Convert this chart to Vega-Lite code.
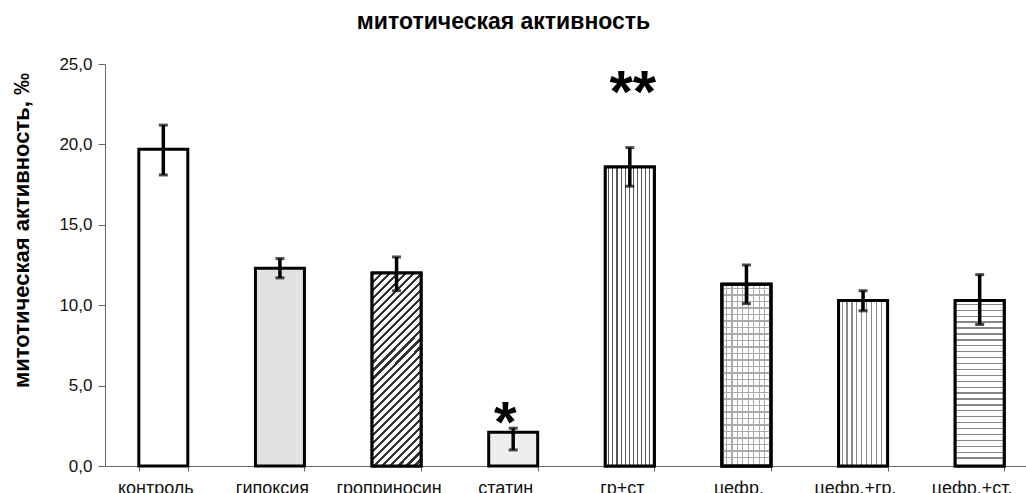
{
  "$schema": "https://vega.github.io/schema/vega-lite/v6.json",
  "width": 921,
  "height": 402,
  "autosize": {"type": "none"},
  "padding": {"left": 105, "top": 64, "right": 0, "bottom": 27},
  "background": "white",
  "config": {"font": "Liberation Sans", "view": {"stroke": null}},
  "title": {"text": "митотическая активность", "fontSize": 23, "fontWeight": "bold", "color": "black", "anchor": "middle", "frame": "group", "dx": -62, "offset": 21},
  "data": {"values": [
    {"group": "контроль", "value": 19.7, "lo": 18.1, "hi": 21.2, "sig": ""},
    {"group": "гипоксия", "value": 12.3, "lo": 11.7, "hi": 12.9, "sig": ""},
    {"group": "гроприносин", "value": 12.0, "lo": 10.9, "hi": 13.0, "sig": ""},
    {"group": "статин", "value": 2.1, "lo": 1.0, "hi": 2.35, "sig": "*"},
    {"group": "гр+ст", "value": 18.6, "lo": 17.4, "hi": 19.8, "sig": "**"},
    {"group": "цефр.", "value": 11.3, "lo": 10.1, "hi": 12.5, "sig": ""},
    {"group": "цефр.+гр.", "value": 10.3, "lo": 9.65, "hi": 10.9, "sig": ""},
    {"group": "цефр.+ст.", "value": 10.3, "lo": 8.8, "hi": 11.9, "sig": ""}
  ]},
  "encoding": {
    "x": {"field": "group", "type": "nominal", "sort": null,
      "scale": {"range": [0, 933], "paddingInner": 0.58, "paddingOuter": 0.29},
      "axis": {"title": null, "labelAngle": 0, "tickBand": "extent", "tickSize": 5, "domainColor": "#666", "tickColor": "#666", "labelFontSize": 18, "labelColor": "#111", "labelPadding": 8, "labelOffset": -8}},
    "y": {"field": "value", "type": "quantitative", "title": "митотическая активность, ‰", "scale": {"domain": [0, 25], "nice": false}}
  },
  "layer": [
    {
      "mark": {"type": "bar", "stroke": "black", "strokeWidth": 3},
      "encoding": {
        "y": {"field": "value", "type": "quantitative", "title": "митотическая активность, ‰",
          "scale": {"domain": [0, 25], "nice": false},
          "axis": {"values": [0, 5, 10, 15, 20, 25], "labelExpr": "replace(format(datum.value, '.1f'), '.', ',')", "grid": false, "tickSize": 7, "domainColor": "#666", "tickColor": "#666", "labelFontSize": 17, "labelColor": "#111", "labelPadding": 6, "titleFontSize": 22, "titleFontWeight": "bold", "titleColor": "black", "titleX": -84, "titleY": 166, "titleAngle": 270, "titleAlign": "center", "titleBaseline": "middle"}},
        "color": {"field": "group", "type": "nominal", "legend": null,
          "scale": {"domain": ["контроль", "гипоксия", "гроприносин", "статин", "гр+ст", "цефр.", "цефр.+гр.", "цефр.+ст."],
            "range": ["#ffffff", "#e2e2e2", "#888888", "#eeeeee", "#bbbbbb", "#d8d8d8", "#c6c6c6", "#cdcdcd"]}}
      }
    },
    {
      "transform": [{"filter": "datum.group == 'гроприносин'"}],
      "mark": {"type": "bar", "stroke": "black", "strokeWidth": 3,
        "color": {"gradient": "linear", "x1": 0, "y1": 0, "x2": 0.3, "y2": 1.178, "stops": [
          {"offset": 0, "color": "#333"}, {"offset": 0.013, "color": "#333"}, {"offset": 0.013, "color": "#fff"}, {"offset": 0.0333, "color": "#fff"},
          {"offset": 0.0333, "color": "#333"}, {"offset": 0.0463, "color": "#333"}, {"offset": 0.0463, "color": "#fff"}, {"offset": 0.0667, "color": "#fff"},
          {"offset": 0.0667, "color": "#333"}, {"offset": 0.0797, "color": "#333"}, {"offset": 0.0797, "color": "#fff"}, {"offset": 0.1, "color": "#fff"},
          {"offset": 0.1, "color": "#333"}, {"offset": 0.113, "color": "#333"}, {"offset": 0.113, "color": "#fff"}, {"offset": 0.1333, "color": "#fff"},
          {"offset": 0.1333, "color": "#333"}, {"offset": 0.1463, "color": "#333"}, {"offset": 0.1463, "color": "#fff"}, {"offset": 0.1667, "color": "#fff"},
          {"offset": 0.1667, "color": "#333"}, {"offset": 0.1797, "color": "#333"}, {"offset": 0.1797, "color": "#fff"}, {"offset": 0.2, "color": "#fff"},
          {"offset": 0.2, "color": "#333"}, {"offset": 0.213, "color": "#333"}, {"offset": 0.213, "color": "#fff"}, {"offset": 0.2333, "color": "#fff"},
          {"offset": 0.2333, "color": "#333"}, {"offset": 0.2463, "color": "#333"}, {"offset": 0.2463, "color": "#fff"}, {"offset": 0.2667, "color": "#fff"},
          {"offset": 0.2667, "color": "#333"}, {"offset": 0.2797, "color": "#333"}, {"offset": 0.2797, "color": "#fff"}, {"offset": 0.3, "color": "#fff"},
          {"offset": 0.3, "color": "#333"}, {"offset": 0.313, "color": "#333"}, {"offset": 0.313, "color": "#fff"}, {"offset": 0.3333, "color": "#fff"},
          {"offset": 0.3333, "color": "#333"}, {"offset": 0.3463, "color": "#333"}, {"offset": 0.3463, "color": "#fff"}, {"offset": 0.3667, "color": "#fff"},
          {"offset": 0.3667, "color": "#333"}, {"offset": 0.3797, "color": "#333"}, {"offset": 0.3797, "color": "#fff"}, {"offset": 0.4, "color": "#fff"},
          {"offset": 0.4, "color": "#333"}, {"offset": 0.413, "color": "#333"}, {"offset": 0.413, "color": "#fff"}, {"offset": 0.4333, "color": "#fff"},
          {"offset": 0.4333, "color": "#333"}, {"offset": 0.4463, "color": "#333"}, {"offset": 0.4463, "color": "#fff"}, {"offset": 0.4667, "color": "#fff"},
          {"offset": 0.4667, "color": "#333"}, {"offset": 0.4797, "color": "#333"}, {"offset": 0.4797, "color": "#fff"}, {"offset": 0.5, "color": "#fff"},
          {"offset": 0.5, "color": "#333"}, {"offset": 0.513, "color": "#333"}, {"offset": 0.513, "color": "#fff"}, {"offset": 0.5333, "color": "#fff"},
          {"offset": 0.5333, "color": "#333"}, {"offset": 0.5463, "color": "#333"}, {"offset": 0.5463, "color": "#fff"}, {"offset": 0.5667, "color": "#fff"},
          {"offset": 0.5667, "color": "#333"}, {"offset": 0.5797, "color": "#333"}, {"offset": 0.5797, "color": "#fff"}, {"offset": 0.6, "color": "#fff"},
          {"offset": 0.6, "color": "#333"}, {"offset": 0.613, "color": "#333"}, {"offset": 0.613, "color": "#fff"}, {"offset": 0.6333, "color": "#fff"},
          {"offset": 0.6333, "color": "#333"}, {"offset": 0.6463, "color": "#333"}, {"offset": 0.6463, "color": "#fff"}, {"offset": 0.6667, "color": "#fff"},
          {"offset": 0.6667, "color": "#333"}, {"offset": 0.6797, "color": "#333"}, {"offset": 0.6797, "color": "#fff"}, {"offset": 0.7, "color": "#fff"},
          {"offset": 0.7, "color": "#333"}, {"offset": 0.713, "color": "#333"}, {"offset": 0.713, "color": "#fff"}, {"offset": 0.7333, "color": "#fff"},
          {"offset": 0.7333, "color": "#333"}, {"offset": 0.7463, "color": "#333"}, {"offset": 0.7463, "color": "#fff"}, {"offset": 0.7667, "color": "#fff"},
          {"offset": 0.7667, "color": "#333"}, {"offset": 0.7797, "color": "#333"}, {"offset": 0.7797, "color": "#fff"}, {"offset": 0.8, "color": "#fff"},
          {"offset": 0.8, "color": "#333"}, {"offset": 0.813, "color": "#333"}, {"offset": 0.813, "color": "#fff"}, {"offset": 0.8333, "color": "#fff"},
          {"offset": 0.8333, "color": "#333"}, {"offset": 0.8463, "color": "#333"}, {"offset": 0.8463, "color": "#fff"}, {"offset": 0.8667, "color": "#fff"},
          {"offset": 0.8667, "color": "#333"}, {"offset": 0.8797, "color": "#333"}, {"offset": 0.8797, "color": "#fff"}, {"offset": 0.9, "color": "#fff"},
          {"offset": 0.9, "color": "#333"}, {"offset": 0.913, "color": "#333"}, {"offset": 0.913, "color": "#fff"}, {"offset": 0.9333, "color": "#fff"},
          {"offset": 0.9333, "color": "#333"}, {"offset": 0.9463, "color": "#333"}, {"offset": 0.9463, "color": "#fff"}, {"offset": 0.9667, "color": "#fff"},
          {"offset": 0.9667, "color": "#333"}, {"offset": 0.9797, "color": "#333"}, {"offset": 0.9797, "color": "#fff"}, {"offset": 1, "color": "#fff"}
        ]}}
    },
    {
      "transform": [{"filter": "datum.group == 'гр+ст'"}],
      "mark": {"type": "bar", "stroke": "black", "strokeWidth": 3,
        "color": {"gradient": "linear", "x1": 0, "y1": 0, "x2": 1, "y2": 0, "stops": [
          {"offset": 0, "color": "#fff"},
          {"offset": 0.0613, "color": "#fff"}, {"offset": 0.0613, "color": "#555"}, {"offset": 0.0833, "color": "#555"}, {"offset": 0.0833, "color": "#fff"},
          {"offset": 0.1447, "color": "#fff"}, {"offset": 0.1447, "color": "#555"}, {"offset": 0.1667, "color": "#555"}, {"offset": 0.1667, "color": "#fff"},
          {"offset": 0.228, "color": "#fff"}, {"offset": 0.228, "color": "#555"}, {"offset": 0.25, "color": "#555"}, {"offset": 0.25, "color": "#fff"},
          {"offset": 0.3113, "color": "#fff"}, {"offset": 0.3113, "color": "#555"}, {"offset": 0.3333, "color": "#555"}, {"offset": 0.3333, "color": "#fff"},
          {"offset": 0.3947, "color": "#fff"}, {"offset": 0.3947, "color": "#555"}, {"offset": 0.4167, "color": "#555"}, {"offset": 0.4167, "color": "#fff"},
          {"offset": 0.478, "color": "#fff"}, {"offset": 0.478, "color": "#555"}, {"offset": 0.5, "color": "#555"}, {"offset": 0.5, "color": "#fff"},
          {"offset": 0.5613, "color": "#fff"}, {"offset": 0.5613, "color": "#555"}, {"offset": 0.5833, "color": "#555"}, {"offset": 0.5833, "color": "#fff"},
          {"offset": 0.6447, "color": "#fff"}, {"offset": 0.6447, "color": "#555"}, {"offset": 0.6667, "color": "#555"}, {"offset": 0.6667, "color": "#fff"},
          {"offset": 0.728, "color": "#fff"}, {"offset": 0.728, "color": "#555"}, {"offset": 0.75, "color": "#555"}, {"offset": 0.75, "color": "#fff"},
          {"offset": 0.8113, "color": "#fff"}, {"offset": 0.8113, "color": "#555"}, {"offset": 0.8333, "color": "#555"}, {"offset": 0.8333, "color": "#fff"},
          {"offset": 0.8947, "color": "#fff"}, {"offset": 0.8947, "color": "#555"}, {"offset": 0.9167, "color": "#555"}, {"offset": 0.9167, "color": "#fff"},
          {"offset": 1, "color": "#fff"}
        ]}}
    },
    {
      "transform": [{"filter": "datum.group == 'цефр.'"}],
      "mark": {"type": "bar", "stroke": "black", "strokeWidth": 3,
        "color": {"gradient": "linear", "x1": 0, "y1": 0, "x2": 1, "y2": 0, "stops": [
          {"offset": 0, "color": "#fff"},
          {"offset": 0.08, "color": "#fff"}, {"offset": 0.08, "color": "#aaa"}, {"offset": 0.105, "color": "#aaa"}, {"offset": 0.105, "color": "#fff"},
          {"offset": 0.1911, "color": "#fff"}, {"offset": 0.1911, "color": "#aaa"}, {"offset": 0.2161, "color": "#aaa"}, {"offset": 0.2161, "color": "#fff"},
          {"offset": 0.3022, "color": "#fff"}, {"offset": 0.3022, "color": "#aaa"}, {"offset": 0.3272, "color": "#aaa"}, {"offset": 0.3272, "color": "#fff"},
          {"offset": 0.4133, "color": "#fff"}, {"offset": 0.4133, "color": "#aaa"}, {"offset": 0.4383, "color": "#aaa"}, {"offset": 0.4383, "color": "#fff"},
          {"offset": 0.5244, "color": "#fff"}, {"offset": 0.5244, "color": "#aaa"}, {"offset": 0.5494, "color": "#aaa"}, {"offset": 0.5494, "color": "#fff"},
          {"offset": 0.6356, "color": "#fff"}, {"offset": 0.6356, "color": "#aaa"}, {"offset": 0.6606, "color": "#aaa"}, {"offset": 0.6606, "color": "#fff"},
          {"offset": 0.7467, "color": "#fff"}, {"offset": 0.7467, "color": "#aaa"}, {"offset": 0.7717, "color": "#aaa"}, {"offset": 0.7717, "color": "#fff"},
          {"offset": 0.8578, "color": "#fff"}, {"offset": 0.8578, "color": "#aaa"}, {"offset": 0.8828, "color": "#aaa"}, {"offset": 0.8828, "color": "#fff"},
          {"offset": 1, "color": "#fff"}
        ]}}
    },
    {
      "transform": [{"filter": "datum.group == 'цефр.'"}],
      "mark": {"type": "bar", "stroke": "black", "strokeWidth": 3,
        "color": {"gradient": "linear", "x1": 0, "y1": 0, "x2": 0, "y2": 1, "stops": [
          {"offset": 0, "color": "rgba(255,255,255,0)"},
          {"offset": 0.02, "color": "rgba(255,255,255,0)"}, {"offset": 0.02, "color": "#aaa"}, {"offset": 0.028, "color": "#aaa"}, {"offset": 0.028, "color": "rgba(255,255,255,0)"},
          {"offset": 0.0557, "color": "rgba(255,255,255,0)"}, {"offset": 0.0557, "color": "#aaa"}, {"offset": 0.0637, "color": "#aaa"}, {"offset": 0.0637, "color": "rgba(255,255,255,0)"},
          {"offset": 0.0914, "color": "rgba(255,255,255,0)"}, {"offset": 0.0914, "color": "#aaa"}, {"offset": 0.0994, "color": "#aaa"}, {"offset": 0.0994, "color": "rgba(255,255,255,0)"},
          {"offset": 0.1271, "color": "rgba(255,255,255,0)"}, {"offset": 0.1271, "color": "#aaa"}, {"offset": 0.1351, "color": "#aaa"}, {"offset": 0.1351, "color": "rgba(255,255,255,0)"},
          {"offset": 0.1629, "color": "rgba(255,255,255,0)"}, {"offset": 0.1629, "color": "#aaa"}, {"offset": 0.1709, "color": "#aaa"}, {"offset": 0.1709, "color": "rgba(255,255,255,0)"},
          {"offset": 0.1986, "color": "rgba(255,255,255,0)"}, {"offset": 0.1986, "color": "#aaa"}, {"offset": 0.2066, "color": "#aaa"}, {"offset": 0.2066, "color": "rgba(255,255,255,0)"},
          {"offset": 0.2343, "color": "rgba(255,255,255,0)"}, {"offset": 0.2343, "color": "#aaa"}, {"offset": 0.2423, "color": "#aaa"}, {"offset": 0.2423, "color": "rgba(255,255,255,0)"},
          {"offset": 0.27, "color": "rgba(255,255,255,0)"}, {"offset": 0.27, "color": "#aaa"}, {"offset": 0.278, "color": "#aaa"}, {"offset": 0.278, "color": "rgba(255,255,255,0)"},
          {"offset": 0.3057, "color": "rgba(255,255,255,0)"}, {"offset": 0.3057, "color": "#aaa"}, {"offset": 0.3137, "color": "#aaa"}, {"offset": 0.3137, "color": "rgba(255,255,255,0)"},
          {"offset": 0.3414, "color": "rgba(255,255,255,0)"}, {"offset": 0.3414, "color": "#aaa"}, {"offset": 0.3494, "color": "#aaa"}, {"offset": 0.3494, "color": "rgba(255,255,255,0)"},
          {"offset": 0.3771, "color": "rgba(255,255,255,0)"}, {"offset": 0.3771, "color": "#aaa"}, {"offset": 0.3851, "color": "#aaa"}, {"offset": 0.3851, "color": "rgba(255,255,255,0)"},
          {"offset": 0.4129, "color": "rgba(255,255,255,0)"}, {"offset": 0.4129, "color": "#aaa"}, {"offset": 0.4209, "color": "#aaa"}, {"offset": 0.4209, "color": "rgba(255,255,255,0)"},
          {"offset": 0.4486, "color": "rgba(255,255,255,0)"}, {"offset": 0.4486, "color": "#aaa"}, {"offset": 0.4566, "color": "#aaa"}, {"offset": 0.4566, "color": "rgba(255,255,255,0)"},
          {"offset": 0.4843, "color": "rgba(255,255,255,0)"}, {"offset": 0.4843, "color": "#aaa"}, {"offset": 0.4923, "color": "#aaa"}, {"offset": 0.4923, "color": "rgba(255,255,255,0)"},
          {"offset": 0.52, "color": "rgba(255,255,255,0)"}, {"offset": 0.52, "color": "#aaa"}, {"offset": 0.528, "color": "#aaa"}, {"offset": 0.528, "color": "rgba(255,255,255,0)"},
          {"offset": 0.5557, "color": "rgba(255,255,255,0)"}, {"offset": 0.5557, "color": "#aaa"}, {"offset": 0.5637, "color": "#aaa"}, {"offset": 0.5637, "color": "rgba(255,255,255,0)"},
          {"offset": 0.5914, "color": "rgba(255,255,255,0)"}, {"offset": 0.5914, "color": "#aaa"}, {"offset": 0.5994, "color": "#aaa"}, {"offset": 0.5994, "color": "rgba(255,255,255,0)"},
          {"offset": 0.6271, "color": "rgba(255,255,255,0)"}, {"offset": 0.6271, "color": "#aaa"}, {"offset": 0.6351, "color": "#aaa"}, {"offset": 0.6351, "color": "rgba(255,255,255,0)"},
          {"offset": 0.6629, "color": "rgba(255,255,255,0)"}, {"offset": 0.6629, "color": "#aaa"}, {"offset": 0.6709, "color": "#aaa"}, {"offset": 0.6709, "color": "rgba(255,255,255,0)"},
          {"offset": 0.6986, "color": "rgba(255,255,255,0)"}, {"offset": 0.6986, "color": "#aaa"}, {"offset": 0.7066, "color": "#aaa"}, {"offset": 0.7066, "color": "rgba(255,255,255,0)"},
          {"offset": 0.7343, "color": "rgba(255,255,255,0)"}, {"offset": 0.7343, "color": "#aaa"}, {"offset": 0.7423, "color": "#aaa"}, {"offset": 0.7423, "color": "rgba(255,255,255,0)"},
          {"offset": 0.77, "color": "rgba(255,255,255,0)"}, {"offset": 0.77, "color": "#aaa"}, {"offset": 0.778, "color": "#aaa"}, {"offset": 0.778, "color": "rgba(255,255,255,0)"},
          {"offset": 0.8057, "color": "rgba(255,255,255,0)"}, {"offset": 0.8057, "color": "#aaa"}, {"offset": 0.8137, "color": "#aaa"}, {"offset": 0.8137, "color": "rgba(255,255,255,0)"},
          {"offset": 0.8414, "color": "rgba(255,255,255,0)"}, {"offset": 0.8414, "color": "#aaa"}, {"offset": 0.8494, "color": "#aaa"}, {"offset": 0.8494, "color": "rgba(255,255,255,0)"},
          {"offset": 0.8771, "color": "rgba(255,255,255,0)"}, {"offset": 0.8771, "color": "#aaa"}, {"offset": 0.8851, "color": "#aaa"}, {"offset": 0.8851, "color": "rgba(255,255,255,0)"},
          {"offset": 0.9129, "color": "rgba(255,255,255,0)"}, {"offset": 0.9129, "color": "#aaa"}, {"offset": 0.9209, "color": "#aaa"}, {"offset": 0.9209, "color": "rgba(255,255,255,0)"},
          {"offset": 0.9486, "color": "rgba(255,255,255,0)"}, {"offset": 0.9486, "color": "#aaa"}, {"offset": 0.9566, "color": "#aaa"}, {"offset": 0.9566, "color": "rgba(255,255,255,0)"},
          {"offset": 1, "color": "rgba(255,255,255,0)"}
        ]}}
    },
    {
      "transform": [{"filter": "datum.group == 'цефр.+гр.'"}],
      "mark": {"type": "bar", "stroke": "black", "strokeWidth": 3,
        "color": {"gradient": "linear", "x1": 0, "y1": 0, "x2": 1, "y2": 0, "stops": [
          {"offset": 0, "color": "#fff"},
          {"offset": 0.06, "color": "#fff"}, {"offset": 0.06, "color": "#888"}, {"offset": 0.085, "color": "#888"}, {"offset": 0.085, "color": "#fff"},
          {"offset": 0.16, "color": "#fff"}, {"offset": 0.16, "color": "#888"}, {"offset": 0.185, "color": "#888"}, {"offset": 0.185, "color": "#fff"},
          {"offset": 0.26, "color": "#fff"}, {"offset": 0.26, "color": "#888"}, {"offset": 0.285, "color": "#888"}, {"offset": 0.285, "color": "#fff"},
          {"offset": 0.36, "color": "#fff"}, {"offset": 0.36, "color": "#888"}, {"offset": 0.385, "color": "#888"}, {"offset": 0.385, "color": "#fff"},
          {"offset": 0.46, "color": "#fff"}, {"offset": 0.46, "color": "#888"}, {"offset": 0.485, "color": "#888"}, {"offset": 0.485, "color": "#fff"},
          {"offset": 0.56, "color": "#fff"}, {"offset": 0.56, "color": "#888"}, {"offset": 0.585, "color": "#888"}, {"offset": 0.585, "color": "#fff"},
          {"offset": 0.66, "color": "#fff"}, {"offset": 0.66, "color": "#888"}, {"offset": 0.685, "color": "#888"}, {"offset": 0.685, "color": "#fff"},
          {"offset": 0.76, "color": "#fff"}, {"offset": 0.76, "color": "#888"}, {"offset": 0.785, "color": "#888"}, {"offset": 0.785, "color": "#fff"},
          {"offset": 0.86, "color": "#fff"}, {"offset": 0.86, "color": "#888"}, {"offset": 0.885, "color": "#888"}, {"offset": 0.885, "color": "#fff"},
          {"offset": 1, "color": "#fff"}
        ]}}
    },
    {
      "transform": [{"filter": "datum.group == 'цефр.+ст.'"}],
      "mark": {"type": "bar", "stroke": "black", "strokeWidth": 3,
        "color": {"gradient": "linear", "x1": 0, "y1": 0, "x2": 0, "y2": 1, "stops": [
          {"offset": 0, "color": "#fff"},
          {"offset": 0.02, "color": "#fff"}, {"offset": 0.02, "color": "#888"}, {"offset": 0.028, "color": "#888"}, {"offset": 0.028, "color": "#fff"},
          {"offset": 0.0557, "color": "#fff"}, {"offset": 0.0557, "color": "#888"}, {"offset": 0.0637, "color": "#888"}, {"offset": 0.0637, "color": "#fff"},
          {"offset": 0.0914, "color": "#fff"}, {"offset": 0.0914, "color": "#888"}, {"offset": 0.0994, "color": "#888"}, {"offset": 0.0994, "color": "#fff"},
          {"offset": 0.1271, "color": "#fff"}, {"offset": 0.1271, "color": "#888"}, {"offset": 0.1351, "color": "#888"}, {"offset": 0.1351, "color": "#fff"},
          {"offset": 0.1629, "color": "#fff"}, {"offset": 0.1629, "color": "#888"}, {"offset": 0.1709, "color": "#888"}, {"offset": 0.1709, "color": "#fff"},
          {"offset": 0.1986, "color": "#fff"}, {"offset": 0.1986, "color": "#888"}, {"offset": 0.2066, "color": "#888"}, {"offset": 0.2066, "color": "#fff"},
          {"offset": 0.2343, "color": "#fff"}, {"offset": 0.2343, "color": "#888"}, {"offset": 0.2423, "color": "#888"}, {"offset": 0.2423, "color": "#fff"},
          {"offset": 0.27, "color": "#fff"}, {"offset": 0.27, "color": "#888"}, {"offset": 0.278, "color": "#888"}, {"offset": 0.278, "color": "#fff"},
          {"offset": 0.3057, "color": "#fff"}, {"offset": 0.3057, "color": "#888"}, {"offset": 0.3137, "color": "#888"}, {"offset": 0.3137, "color": "#fff"},
          {"offset": 0.3414, "color": "#fff"}, {"offset": 0.3414, "color": "#888"}, {"offset": 0.3494, "color": "#888"}, {"offset": 0.3494, "color": "#fff"},
          {"offset": 0.3771, "color": "#fff"}, {"offset": 0.3771, "color": "#888"}, {"offset": 0.3851, "color": "#888"}, {"offset": 0.3851, "color": "#fff"},
          {"offset": 0.4129, "color": "#fff"}, {"offset": 0.4129, "color": "#888"}, {"offset": 0.4209, "color": "#888"}, {"offset": 0.4209, "color": "#fff"},
          {"offset": 0.4486, "color": "#fff"}, {"offset": 0.4486, "color": "#888"}, {"offset": 0.4566, "color": "#888"}, {"offset": 0.4566, "color": "#fff"},
          {"offset": 0.4843, "color": "#fff"}, {"offset": 0.4843, "color": "#888"}, {"offset": 0.4923, "color": "#888"}, {"offset": 0.4923, "color": "#fff"},
          {"offset": 0.52, "color": "#fff"}, {"offset": 0.52, "color": "#888"}, {"offset": 0.528, "color": "#888"}, {"offset": 0.528, "color": "#fff"},
          {"offset": 0.5557, "color": "#fff"}, {"offset": 0.5557, "color": "#888"}, {"offset": 0.5637, "color": "#888"}, {"offset": 0.5637, "color": "#fff"},
          {"offset": 0.5914, "color": "#fff"}, {"offset": 0.5914, "color": "#888"}, {"offset": 0.5994, "color": "#888"}, {"offset": 0.5994, "color": "#fff"},
          {"offset": 0.6271, "color": "#fff"}, {"offset": 0.6271, "color": "#888"}, {"offset": 0.6351, "color": "#888"}, {"offset": 0.6351, "color": "#fff"},
          {"offset": 0.6629, "color": "#fff"}, {"offset": 0.6629, "color": "#888"}, {"offset": 0.6709, "color": "#888"}, {"offset": 0.6709, "color": "#fff"},
          {"offset": 0.6986, "color": "#fff"}, {"offset": 0.6986, "color": "#888"}, {"offset": 0.7066, "color": "#888"}, {"offset": 0.7066, "color": "#fff"},
          {"offset": 0.7343, "color": "#fff"}, {"offset": 0.7343, "color": "#888"}, {"offset": 0.7423, "color": "#888"}, {"offset": 0.7423, "color": "#fff"},
          {"offset": 0.77, "color": "#fff"}, {"offset": 0.77, "color": "#888"}, {"offset": 0.778, "color": "#888"}, {"offset": 0.778, "color": "#fff"},
          {"offset": 0.8057, "color": "#fff"}, {"offset": 0.8057, "color": "#888"}, {"offset": 0.8137, "color": "#888"}, {"offset": 0.8137, "color": "#fff"},
          {"offset": 0.8414, "color": "#fff"}, {"offset": 0.8414, "color": "#888"}, {"offset": 0.8494, "color": "#888"}, {"offset": 0.8494, "color": "#fff"},
          {"offset": 0.8771, "color": "#fff"}, {"offset": 0.8771, "color": "#888"}, {"offset": 0.8851, "color": "#888"}, {"offset": 0.8851, "color": "#fff"},
          {"offset": 0.9129, "color": "#fff"}, {"offset": 0.9129, "color": "#888"}, {"offset": 0.9209, "color": "#888"}, {"offset": 0.9209, "color": "#fff"},
          {"offset": 0.9486, "color": "#fff"}, {"offset": 0.9486, "color": "#888"}, {"offset": 0.9566, "color": "#888"}, {"offset": 0.9566, "color": "#fff"},
          {"offset": 1, "color": "#fff"}
        ]}}
    },
    {
      "mark": {"type": "rule", "color": "black", "strokeWidth": 3.5},
      "encoding": {
        "y": {"field": "lo", "type": "quantitative", "title": "митотическая активность, ‰", "scale": {"domain": [0, 25], "nice": false}},
        "y2": {"field": "hi"}
      }
    },
    {
      "mark": {"type": "tick", "color": "black", "thickness": 3, "size": 9},
      "encoding": {
        "y": {"field": "lo", "type": "quantitative", "title": "митотическая активность, ‰", "scale": {"domain": [0, 25], "nice": false}}
      }
    },
    {
      "mark": {"type": "tick", "color": "black", "thickness": 3, "size": 9},
      "encoding": {
        "y": {"field": "hi", "type": "quantitative", "title": "митотическая активность, ‰", "scale": {"domain": [0, 25], "nice": false}}
      }
    },
    {
      "transform": [{"filter": "datum.group == 'статин'"}],
      "mark": {"type": "text", "fontSize": 58, "fontWeight": "bold", "color": "black", "baseline": "alphabetic", "dx": -8, "dy": 14},
      "encoding": {
        "y": {"field": "hi", "type": "quantitative", "title": "митотическая активность, ‰", "scale": {"domain": [0, 25], "nice": false}},
        "text": {"field": "sig"}
      }
    },
    {
      "transform": [{"filter": "datum.group == 'гр+ст'"}],
      "mark": {"type": "text", "fontSize": 60, "fontWeight": "bold", "color": "black", "baseline": "alphabetic", "dx": 3, "dy": -36},
      "encoding": {
        "y": {"field": "hi", "type": "quantitative", "title": "митотическая активность, ‰", "scale": {"domain": [0, 25], "nice": false}},
        "text": {"field": "sig"}
      }
    }
  ]
}
